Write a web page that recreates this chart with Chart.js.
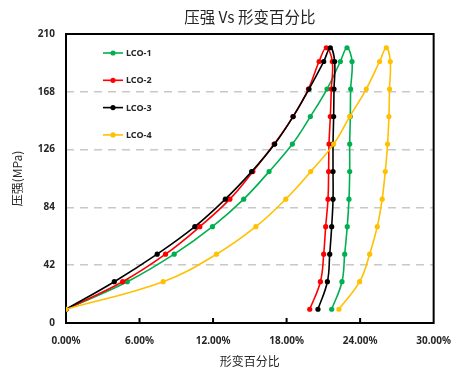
<!DOCTYPE html>
<html><head><meta charset="utf-8">
<script src="https://cdn.jsdelivr.net/npm/chart.js@4.4.1/dist/chart.umd.min.js"></script>
<style>html,body{margin:0;padding:0;background:#fff;}</style>
</head><body>
<canvas id="c" width="463" height="380"></canvas>
<script>
// ---- data ----
const seriesNames = ['LCO-1', 'LCO-2', 'LCO-3', 'LCO-4'];
const seriesColors = ['#00B050', '#FF0000', '#000000', '#FFC000'];
// pressure (MPa): loading 10 -> 200, then unloading 200 -> 10
const pressure = [10, 30, 50, 70, 90, 110, 130, 150, 170, 190, 200, 190, 170, 150, 130, 110, 90, 70, 50, 30, 10];
// strain (%) for each series, same order as pressure
const strainLCO1 = [0, 5.0, 8.83, 11.95, 14.5, 16.57, 18.47, 19.94, 21.3, 22.39, 22.93, 23.34, 23.23, 23.2, 23.15, 23.15, 23.09, 22.95, 22.74, 22.52, 21.68];
const strainLCO2 = [0, 4.62, 8.12, 10.92, 13.37, 15.25, 16.98, 18.53, 19.78, 20.65, 21.24, 21.73, 21.65, 21.57, 21.46, 21.43, 21.38, 21.19, 21.03, 20.76, 19.89];
const strainLCO3 = [0, 3.94, 7.44, 10.51, 13.0, 15.15, 17.03, 18.53, 19.83, 21.03, 21.57, 21.92, 21.87, 21.84, 21.79, 21.79, 21.79, 21.68, 21.52, 21.33, 20.56];
const strainLCO4 = [0, 7.93, 12.28, 15.49, 17.93, 19.97, 21.84, 23.15, 24.5, 25.59, 26.14, 26.46, 26.4, 26.35, 26.24, 26.05, 25.8, 25.4, 24.78, 23.96, 22.27];
const xTickLabels = ['0.00%', '6.00%', '12.00%', '18.00%', '24.00%', '30.00%'];
const yTickLabels = ['0', '42', '84', '126', '168', '210'];

const strains = [strainLCO1, strainLCO2, strainLCO3, strainLCO4];
const CJK = '"Noto Sans CJK SC", "Noto Sans", sans-serif';
const LAT = '"Noto Sans", "Liberation Sans", sans-serif';

const datasets = seriesNames.map((name, s) => ({
  label: name,
  data: strains[s].map((x, i) => ({ x: x, y: pressure[i] })),
  borderColor: seriesColors[s],
  backgroundColor: seriesColors[s],
  pointBackgroundColor: seriesColors[s],
  pointBorderWidth: 0,
  pointRadius: 2.6,
  borderWidth: 1.6,
  showLine: true,
  fill: false,
  tension: 0.4,
  order: seriesNames.length - s
}));

const framePlugin = {
  id: 'frame',
  beforeDatasetsDraw(chart) {
    const { ctx, chartArea: a, scales } = chart;
    ctx.save();
    ctx.strokeStyle = '#000';
    ctx.lineWidth = 2;
    ctx.strokeRect(a.left, a.top, a.right - a.left, a.bottom - a.top);
    // small inward tick marks on the x axis
    scales.x.ticks.forEach(t => {
      const px = scales.x.getPixelForValue(t.value);
      if (px > a.left + 2 && px < a.right - 2) {
        ctx.beginPath();
        ctx.moveTo(px, a.bottom);
        ctx.lineTo(px, a.bottom - 5);
        ctx.stroke();
      }
    });
    ctx.restore();
  }
};

const legendPlugin = {
  id: 'insideLegend',
  afterDraw(chart) {
    const { ctx, chartArea: a } = chart;
    ctx.save();
    ctx.font = 'bold 9px ' + LAT;
    ctx.textBaseline = 'middle';
    ctx.textAlign = 'left';
    seriesNames.forEach((name, i) => {
      const y = a.top + 19 + i * 27.3;
      const x0 = a.left + 37;
      ctx.strokeStyle = seriesColors[i];
      ctx.fillStyle = seriesColors[i];
      ctx.lineWidth = 1.6;
      ctx.beginPath();
      ctx.moveTo(x0, y);
      ctx.lineTo(x0 + 20, y);
      ctx.stroke();
      ctx.beginPath();
      ctx.arc(x0 + 10, y, 2.6, 0, Math.PI * 2);
      ctx.fill();
      ctx.fillStyle = '#262626';
      ctx.fillText(name, x0 + 23, y + 0.5);
    });
    ctx.restore();
  }
};

new Chart(document.getElementById('c'), {
  type: 'scatter',
  data: { datasets },
  options: {
    responsive: false,
    animation: false,
    devicePixelRatio: 1,
    layout: { padding: { left: 0, right: 29, top: 0, bottom: 0 } },
    plugins: {
      legend: { display: false },
      tooltip: { enabled: false },
      title: {
        display: true,
        text: '压强 Vs 形变百分比',
        fullSize: false,
        color: '#262626',
        font: { family: CJK, size: 15.5, weight: 'normal', lineHeight: 1.2 },
        padding: { top: 8, bottom: 7.4 }
      }
    },
    scales: {
      x: {
        type: 'linear',
        min: 0, max: 30,
        afterFit(s) { s.height = 57; },
        afterBuildTicks(s) { s.ticks = xTickLabels.map((l, i) => ({ value: i * 6 })); },
        ticks: {
          padding: 12,
          color: '#262626',
          font: { family: LAT, size: 10, weight: 'bold' },
          callback: (v, i) => xTickLabels[i]
        },
        grid: { display: false, drawTicks: false },
        border: { display: false },
        title: {
          display: true,
          text: '形变百分比',
          color: '#262626',
          font: { family: CJK, size: 12 },
          padding: { top: 11, bottom: 11 }
        }
      },
      y: {
        type: 'linear',
        min: 0, max: 210,
        afterFit(s) { s.width = 66; },
        afterBuildTicks(s) { s.ticks = yTickLabels.map(l => ({ value: Number(l) })); },
        ticks: {
          padding: 11,
          color: '#262626',
          font: { family: LAT, size: 10, weight: 'bold' },
          callback: (v, i) => yTickLabels[i]
        },
        grid: {
          drawTicks: false,
          lineWidth: 1.5,
          color: ctx => (ctx.tick && ctx.tick.value > 0 && ctx.tick.value < 210) ? '#C8C8C8' : 'rgba(0,0,0,0)'
        },
        border: { display: false, dash: [8, 6] },
        title: {
          display: true,
          text: '压强(MPa)',
          color: '#262626',
          font: { family: CJK, size: 12 },
          padding: { top: 10, bottom: 10 }
        }
      }
    }
  },
  plugins: [framePlugin, legendPlugin]
});
</script>
</body></html>
